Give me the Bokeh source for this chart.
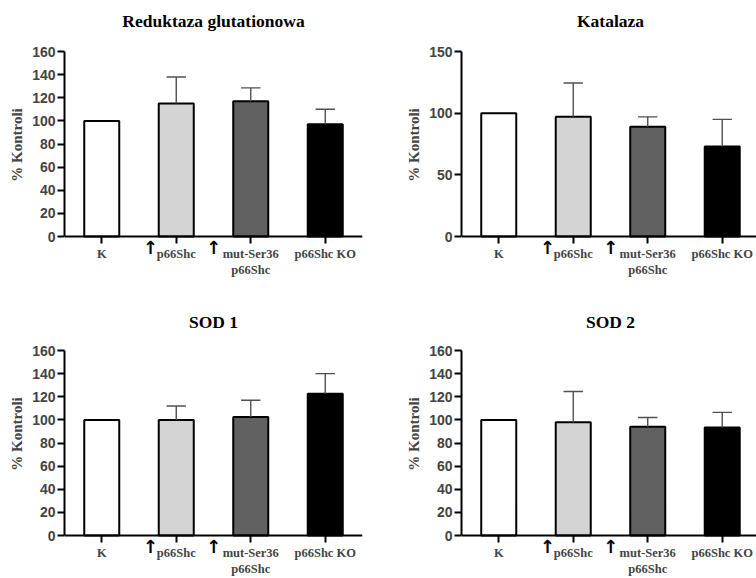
from bokeh.plotting import figure
from bokeh.layouts import gridplot
from bokeh.models import Range1d, FixedTicker, SingleIntervalTicker, ColumnDataSource, Label
from bokeh.embed import file_html
from bokeh.resources import INLINE

# ---- data ----
positions = [0, 1, 2, 3]
tick_labels = ["K", "p66Shc", "mut-Ser36\np66Shc", "p66Shc KO"]
arrow_marked = [1, 2]  # groups whose label carries an up-arrow
bar_colors = ["#ffffff", "#d4d4d4", "#616161", "#000000"]

titles = ["Reduktaza glutationowa", "Katalaza", "SOD 1", "SOD 2"]

reduktaza_mean = [100, 115, 117, 97]
reduktaza_err = [0, 23, 11.5, 13]

katalaza_mean = [100, 97, 89, 73]
katalaza_err = [0, 27.5, 8, 22]

sod1_mean = [100, 100, 102.5, 122.5]
sod1_err = [0, 12, 14.5, 17.5]

sod2_mean = [100, 98, 94, 93.5]
sod2_err = [0, 26.5, 8, 13]

y_max = [160, 150, 160, 160]
y_step = [20, 50, 20, 20]

SERIF = "Liberation Serif"
SANS = "Liberation Sans"
PX_PER_UNIT = 74.5
PLOT_H = 185          # pixels from 0 to y max
ARROW_OFFSETS = {1: -0.35, 2: -0.50}


def make_panel(title, means, errs, ymax, ystep, left, right, xr_end, top, below0, title_gap):
    width = left + int(round((xr_end + 0.5) * PX_PER_UNIT)) + right
    height = top + PLOT_H + below0
    y_low = -ymax * below0 / PLOT_H
    y_high = ymax * (1 + top / PLOT_H)
    p = figure(width=width, height=height, output_backend="svg", toolbar_location=None,
               x_range=Range1d(-0.5, xr_end), y_range=Range1d(y_low, y_high),
               min_border_left=left, min_border_right=right,
               min_border_top=0, min_border_bottom=0)
    p.outline_line_color = None
    p.xgrid.visible = False
    p.ygrid.visible = False

    # panel title, centred over the group axis
    p.add_layout(Label(x=1.5, y=ymax * (1 + title_gap / PLOT_H), text=title,
                       text_font=SERIF, text_font_style="bold", text_font_size="17.5px",
                       text_align="center", text_baseline="middle", text_color="black"))

    src = ColumnDataSource(dict(x=positions, top=means, color=bar_colors))
    p.vbar(x="x", top="top", width=0.47, bottom=0, fill_color="color",
           line_color="black", line_width=2, source=src)

    ex = [positions[i] for i in range(4) if errs[i] > 0]
    ey0 = [means[i] for i in range(4) if errs[i] > 0]
    ey1 = [means[i] + errs[i] for i in range(4) if errs[i] > 0]
    p.segment(x0=ex, y0=ey0, x1=ex, y1=ey1, line_color="#505050", line_width=1.4)
    p.segment(x0=[x - 0.13 for x in ex], y0=ey1, x1=[x + 0.13 for x in ex], y1=ey1,
              line_color="#505050", line_width=1.4)

    for i in arrow_marked:
        p.add_layout(Label(x=positions[i] + ARROW_OFFSETS[i], y=-ymax * 10.5 / PLOT_H,
                           text="↑", text_font="DejaVu Sans", text_font_style="bold",
                           text_font_size="18px", text_align="center",
                           text_baseline="middle", text_color="black"))

    xa = p.xaxis[0]
    xa.fixed_location = 0
    xa.ticker = FixedTicker(ticks=positions)
    xa.major_label_overrides = {positions[i]: tick_labels[i] for i in range(4)}
    xa.major_label_text_font = SERIF
    xa.major_label_text_font_style = "bold"
    xa.major_label_text_font_size = "12.5px"
    xa.major_label_standoff = 3
    xa.axis_line_width = 2
    xa.major_tick_line_width = 2
    xa.major_tick_out = 7
    xa.major_tick_in = 0
    xa.minor_tick_line_color = None

    ya = p.yaxis[0]
    ya.bounds = (0, ymax)
    ya.ticker = SingleIntervalTicker(interval=ystep, num_minor_ticks=0)
    ya.axis_label = "% Kontroli"
    ya.axis_label_text_font = SERIF
    ya.axis_label_text_font_style = "bold"
    ya.axis_label_text_font_size = "15px"
    ya.axis_label_standoff = 4
    ya.major_label_text_font = SANS
    ya.major_label_text_font_style = "bold"
    ya.major_label_text_font_size = "14px"
    ya.major_label_standoff = 2
    ya.axis_line_width = 2
    ya.major_tick_line_width = 2
    ya.major_tick_out = 7
    ya.major_tick_in = 0
    ya.minor_tick_line_color = None
    return p


p1 = make_panel(titles[0], reduktaza_mean, reduktaza_err, y_max[0], y_step[0],
                64, 16, 3.5, 51, 53, 31)
p2 = make_panel(titles[1], katalaza_mean, katalaza_err, y_max[1], y_step[1],
                83, 0, 3.46, 51, 53, 31)
p3 = make_panel(titles[2], sod1_mean, sod1_err, y_max[2], y_step[2],
                64, 16, 3.5, 61, 43, 29)
p4 = make_panel(titles[3], sod2_mean, sod2_err, y_max[3], y_step[3],
                83, 0, 3.46, 61, 43, 29)

grid = gridplot([[p1, p2], [p3, p4]], toolbar_location=None)

with open("out.html", "w") as f:
    f.write(file_html(grid, INLINE))
